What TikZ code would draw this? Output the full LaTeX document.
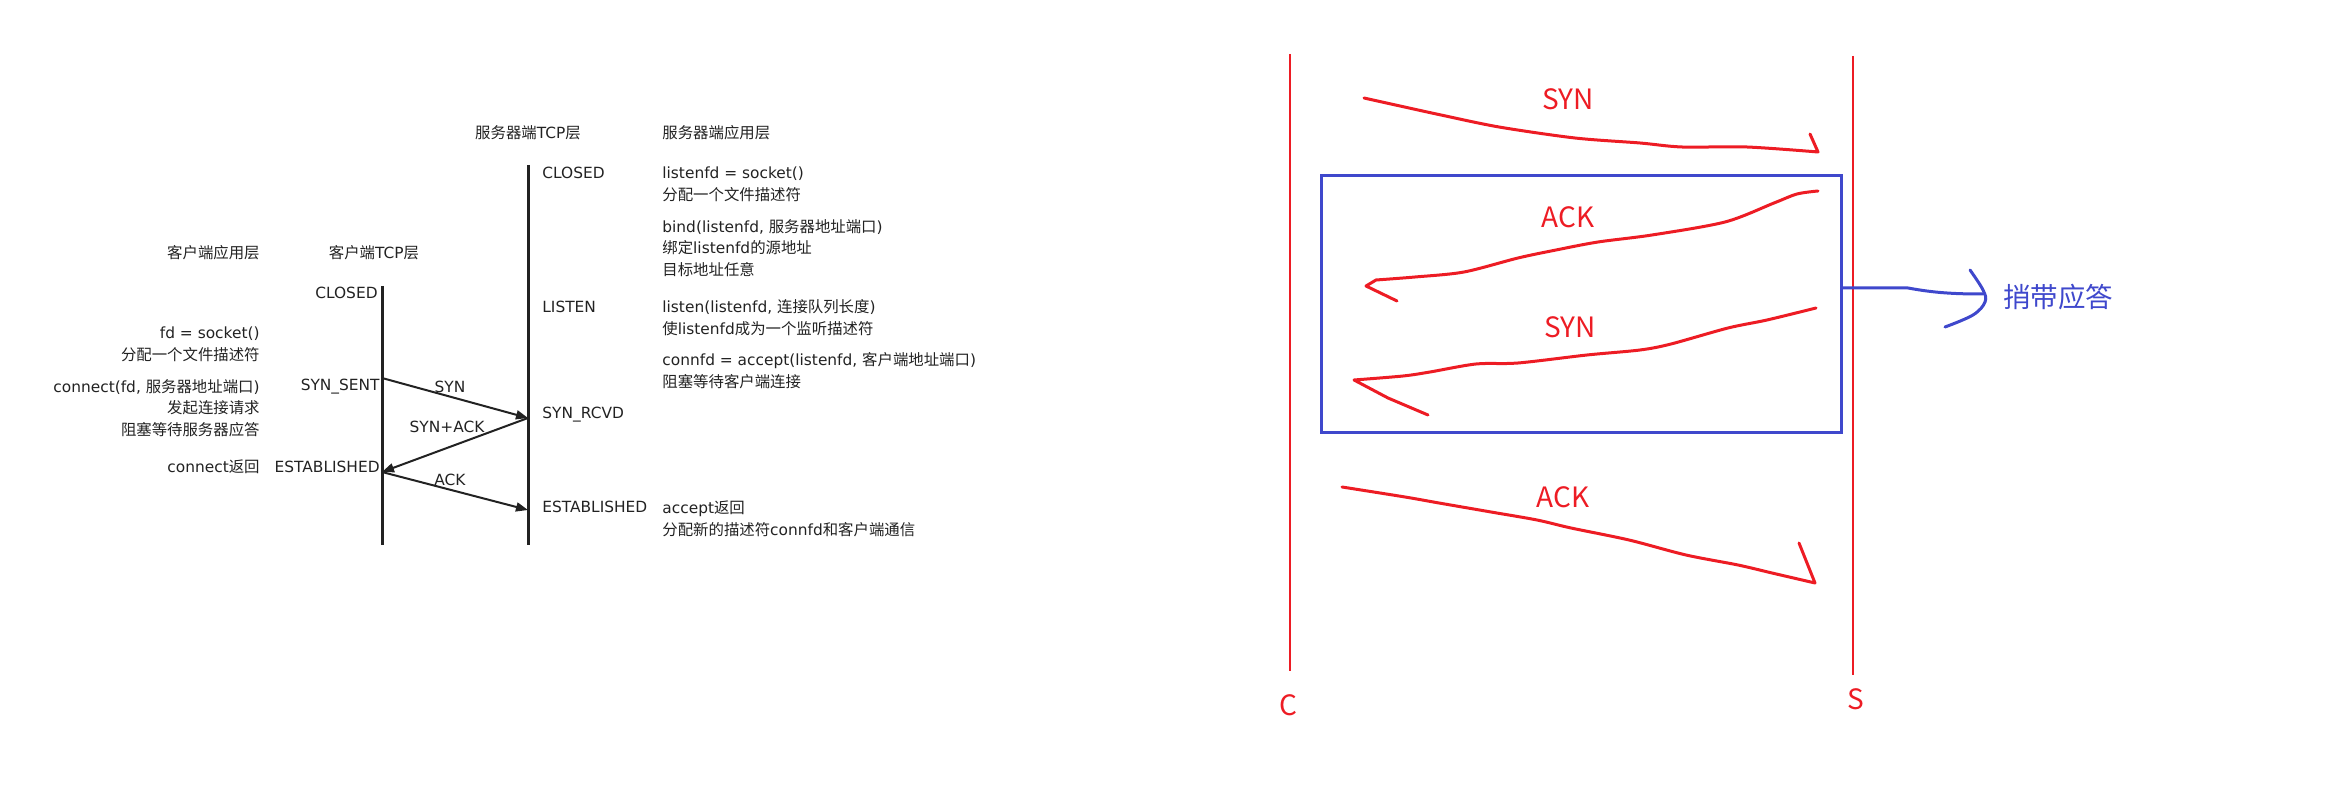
\documentclass[tikz,border=0pt]{standalone}
\usepackage{fontspec}
\setmainfont{Noto Sans CJK SC}
\newfontfamily\lat{DejaVu Sans}
\newcommand{\zh}[1]{{\rmfamily #1}}
\usetikzlibrary{arrows.meta,calc}
\definecolor{pred}{HTML}{ED1C24}
\definecolor{pblue}{HTML}{3F48CC}
\definecolor{ink}{HTML}{222222}
\begin{document}
\begin{tikzpicture}[x=0.5pt,y=-0.5pt,
  lt/.style={font=\lat\fontsize{7.7}{10.9}\selectfont, text=ink, inner sep=0pt},
  ltr/.style={lt, align=right, anchor=east},
  ltl/.style={lt, align=left, anchor=west},
  lifeline/.style={line width=1.5pt, draw=ink},
  msg/.style={line width=1pt, draw=ink, -{Triangle[length=6pt,width=4.5pt]}},
  redtext/.style={text=pred, font=\rmfamily\fontsize{14}{16}\selectfont, inner sep=0pt},
  redline/.style={draw=pred, line width=1.25pt},
  stroke/.style={draw=pred, line width=1.5pt, line cap=round, line join=round},
  bluestroke/.style={draw=pblue, line width=1.5pt, line cap=round, line join=round}]
\useasboundingbox (0,0) rectangle (2334,801);

% ---------------- left diagram ----------------
\coordinate (ctop) at (382,286);
\coordinate (cbot) at (382,545);
\coordinate (stop) at (528,165);
\coordinate (sbot) at (528,545);
\draw[lifeline] (ctop) -- (cbot);
\draw[lifeline] (stop) -- (sbot);

\coordinate (c1) at (382,378);
\coordinate (s1) at (528,418);
\coordinate (c2) at (382,472);
\coordinate (s2) at (528,510);
\draw[msg] (c1) -- (s1);
\draw[msg] (s1) -- (c2);
\draw[msg] (c2) -- (s2);
\node[lt] (lsyn) at (450,387) {SYN};
\node[lt] (lsynack) at (447,427) {SYN+ACK};
\node[lt] (lack) at (450,480) {ACK};

% client application layer
\node[ltr] (capp) at (260,253) {\zh{客户端应用层}};
\node[ltr] (csock) at (260,344) {fd = socket()\\\zh{分配一个文件描述符}};
\node[ltr] (cconn) at (260,408) {connect(fd, \zh{服务器地址端口})\\\zh{发起连接请求}\\\zh{阻塞等待服务器应答}};
\node[ltr] (cret) at (260,467) {connect\zh{返回}};

% client TCP layer
\node[lt] (ctcp) at (374,253) {\zh{客户端}TCP\zh{层}};
\node[lt, anchor=east] (cclosed) at (378,293) {CLOSED};
\node[lt, anchor=east] (csent) at (380,387) {SYN\_SENT};
\node[lt, anchor=east] (cest) at (380,467) {ESTABLISHED};

% server TCP layer
\node[lt] (stcp) at (528,133) {\zh{服务器端}TCP\zh{层}};
\node[lt, anchor=west] (sclosed) at (542,173) {CLOSED};
\node[lt, anchor=west] (slisten) at (542,307) {LISTEN};
\node[lt, anchor=west] (srcvd) at (542,415) {SYN\_RCVD};
\node[lt, anchor=west] (sest) at (542,507) {ESTABLISHED};

% server application layer
\node[ltl] (sapp) at (662,133) {\zh{服务器端应用层}};
\node[ltl] (ssock) at (662,184) {listenfd = socket()\\\zh{分配一个文件描述符}};
\node[ltl] (sbind) at (662,248) {bind(listenfd, \zh{服务器地址端口})\\\zh{绑定}listenfd\zh{的源地址}\\\zh{目标地址任意}};
\node[ltl] (slst) at (662,317.5) {listen(listenfd, \zh{连接队列长度})\\\zh{使}listenfd\zh{成为一个监听描述符}};
\node[ltl] (sacc) at (662,371) {connfd = accept(listenfd, \zh{客户端地址端口})\\\zh{阻塞等待客户端连接}};
\node[ltl] (sret) at (662,518.5) {accept\zh{返回}\\\zh{分配新的描述符}connfd\zh{和客户端通信}};

% ---------------- right diagram ----------------
\coordinate (Ctop) at (1290,54);
\coordinate (Cbot) at (1290,671);
\coordinate (Stop) at (1853,56);
\coordinate (Sbot) at (1853,675);
\draw[redline] (Ctop) -- (Cbot);
\draw[redline] (Stop) -- (Sbot);
\node[redtext] (Clab) at (1288,705) {C};
\node[redtext] (Slab) at (1856,699) {S};

\node[draw=pblue, line width=1.5pt, inner sep=0pt, minimum width=260pt, minimum height=128.5pt] (box) at (1581,304.5) {};

% SYN (top)
\draw[stroke] plot[smooth, tension=0.5] coordinates {(1364,98) (1400,106) (1441,115) (1499,127) (1575,138) (1640,143) (1682,147) (1747,147) (1818,152)} -- (1810,134);
\node[redtext] (t1) at (1568,99) {SYN};

% ACK (in box)
\draw[stroke] plot[smooth, tension=0.5] coordinates {(1818,191) (1797,194) (1774,203) (1725,222) (1652,235) (1598,242) (1556,250) (1518,258) (1464,272) (1415,277) (1376,280)} -- (1366,286) -- (1397,301);
\node[redtext] (t2) at (1568,217) {ACK};

% SYN (in box)
\draw[stroke] plot[smooth, tension=0.5] coordinates {(1816,308) (1767,320) (1728,328) (1671,344) (1640,350) (1587,355) (1518,363) (1476,364) (1430,372) (1403,376) (1354,380)} -- (1388,398) -- (1428,415);
\node[redtext] (t3) at (1570,327) {SYN};

% ACK (bottom)
\draw[stroke] plot[smooth, tension=0.5] coordinates {(1342,487) (1405,497) (1439,503) (1491,512) (1537,520) (1571,528) (1629,540) (1686,555) (1738,565) (1772,573) (1815,583)} -- (1799,543);
\node[redtext] (t4) at (1563,497) {ACK};

% piggyback note
\coordinate (bx) at ($(box.east)+(0,-16.5)$);
\coordinate (bend) at (1983,294);
\draw[bluestroke] (bx) -- (1908,288) .. controls (1935,293) and (1955,294) .. (bend);
\draw[bluestroke] plot[smooth, tension=0.6] coordinates {(1970,270) (1983,290) (1985,302) (1973,315) (1945,327)};
\node[text=pblue, font=\rmfamily\fontsize{13.75}{16}\selectfont, inner sep=0pt] (note) at (2058,297) {捎带应答};
\end{tikzpicture}
\end{document}
